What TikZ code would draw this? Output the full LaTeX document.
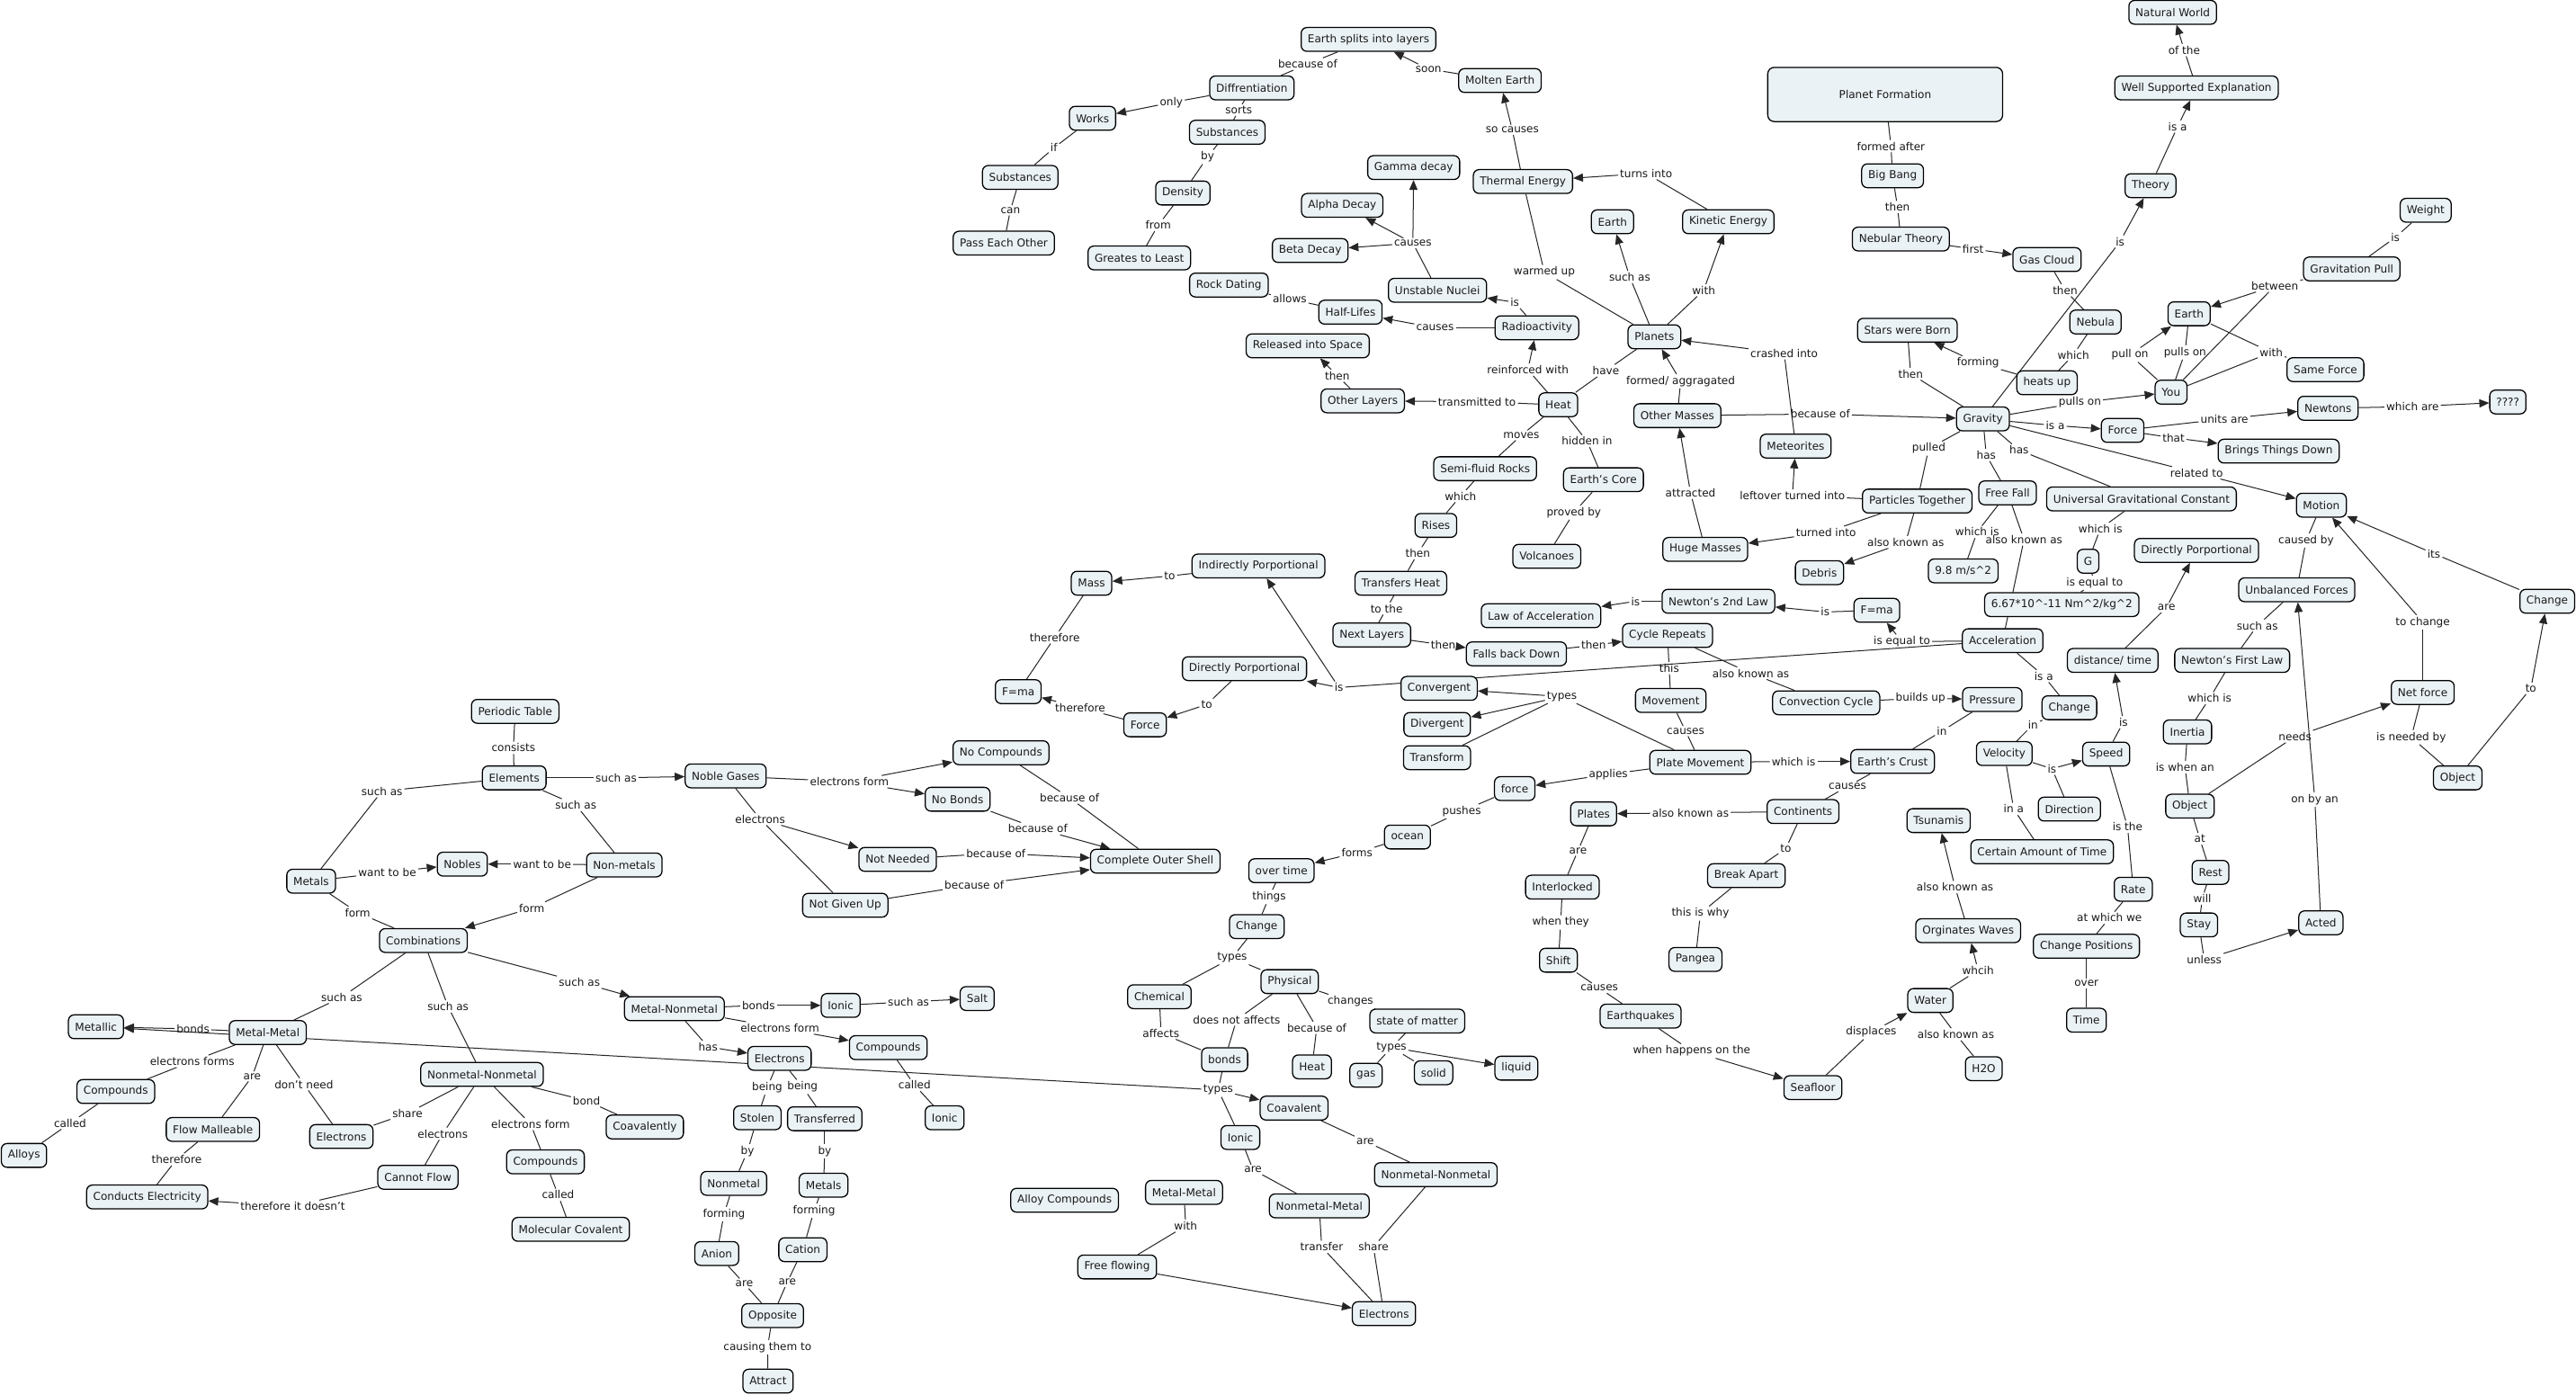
\documentclass[tikz,border=0pt]{standalone}
\usepackage{fontspec}
\setmainfont{DejaVu Sans}
\usetikzlibrary{arrows.meta}
\pgfdeclarelayer{back}
\pgfdeclarelayer{bg}
\pgfsetlayers{back,bg,main}
\definecolor{cfill}{RGB}{235,242,245}
\newcommand\CMfont{\fontsize{6.6pt}{7.6pt}\selectfont}
\tikzset{
 cpt/.style={draw=black, line width=0.7pt, fill=cfill, rounded corners=3.5pt, inner xsep=4pt, inner ysep=2pt, minimum height=14.5pt, font=\CMfont, text=black!90},
 lbl/.style={inner sep=1pt, font=\CMfont, text=black!90},
 ln/.style={line width=0.55pt, draw=black!85},
 arr/.style={ln, -{Triangle[length=6pt,width=5pt]}},
}
\begin{document}
\begin{tikzpicture}[x=1pt,y=-1pt]
\begin{pgfonlayer}{back}
\fill[white] (0,0) rectangle (1568,849);
\end{pgfonlayer}
\useasboundingbox (0,0) rectangle (1568,849);
% ---------- concepts: geology / planets
\node[cpt] (esl) at (833,24) {Earth splits into layers};
\node[cpt] (molten) at (913,49) {Molten Earth};
\node[cpt] (diff) at (762,53.5) {Diffrentiation};
\node[cpt] (works) at (665,72) {Works};
\node[cpt] (subs2) at (747,80.5) {Substances};
\node[cpt] (subs1) at (621,108) {Substances};
\node[cpt] (pass) at (611,148) {Pass Each Other};
\node[cpt] (density) at (720,117.5) {Density};
\node[cpt] (greates) at (693.5,157) {Greates to Least};
\node[cpt] (rock) at (748,173.5) {Rock Dating};
\node[cpt] (gamma) at (860.5,102) {Gamma decay};
\node[cpt] (thermal) at (927,110.5) {Thermal Energy};
\node[cpt] (alpha) at (817,125) {Alpha Decay};
\node[cpt] (earthA) at (981.5,135) {Earth};
\node[cpt] (kinetic) at (1052,135) {Kinetic Energy};
\node[cpt] (beta) at (797.5,152.5) {Beta Decay};
\node[cpt] (unstable) at (875,176.7) {Unstable Nuclei};
\node[cpt] (half) at (822,190) {Half-Lifes};
\node[cpt] (radio) at (935.5,199.5) {Radioactivity};
\node[cpt] (planets) at (1007,205) {Planets};
\node[cpt] (released) at (796,210.5) {Released into Space};
\node[cpt] (otherlayers) at (829.5,244) {Other Layers};
\node[cpt] (heat) at (948.5,246.4) {Heat};
\node[cpt] (othermasses) at (1021,253) {Other Masses};
\node[cpt] (meteorites) at (1093,271.5) {Meteorites};
\node[cpt] (semi) at (904,285.3) {Semi-fluid Rocks};
\node[cpt] (core) at (976,292) {Earth's Core};
\node[cpt] (rises) at (874,319.8) {Rises};
\node[cpt] (huge) at (1038,334.4) {Huge Masses};
\node[cpt] (volcanoes) at (941.5,338.6) {Volcanoes};
\node[cpt] (debris) at (1107.5,348.6) {Debris};
\node[cpt] (transfers) at (852.7,355) {Transfers Heat};
\node[cpt] (n2l) at (1046,366) {Newton's 2nd Law};
\node[cpt] (fmaR) at (1142.4,371.5) {F=ma};
\node[cpt] (lawacc) at (938,374.8) {Law of Acceleration};
\node[cpt] (nextlayers) at (835,386.5) {Next Layers};
\node[cpt] (cycle) at (1015,386.8) {Cycle Repeats};
\node[cpt] (falls) at (923,398) {Falls back Down};
\node[cpt] (convergent) at (876,419) {Convergent};
\node[cpt] (movement) at (1017,426.4) {Movement};
\node[cpt] (convection) at (1111.6,427.8) {Convection Cycle};
\node[cpt] (divergent) at (874.8,441) {Divergent};
\node[cpt] (transform) at (874.7,461.2) {Transform};
\node[cpt] (plate) at (1035,464) {Plate Movement};
\node[cpt] (crust) at (1152,463.5) {Earth's Crust};
\node[cpt] (force) at (922,480) {force};
\node[cpt] (plates) at (970,495.4) {Plates};
\node[cpt] (continents) at (1097.5,494) {Continents};
\node[cpt] (ocean) at (856.7,509.5) {ocean};
\node[cpt] (overtime) at (780,530) {over time};
\node[cpt] (breakapart) at (1063,533) {Break Apart};
\node[cpt] (interlocked) at (951,540) {Interlocked};
\node[cpt] (shift) at (948.6,584.5) {Shift};
\node[cpt] (pangea) at (1032,584) {Pangea};
\node[cpt] (earthquakes) at (998.6,618.5) {Earthquakes};
\node[cpt] (seafloor) at (1103.5,662) {Seafloor};
% ---------- concepts: right side
\node[cpt] (natural) at (1322.5,7.5) {Natural World};
\node[cpt] (wse) at (1337,53.5) {Well Supported Explanation};
\node[cpt, minimum width=143pt, minimum height=33pt, rounded corners=4pt] (planetform) at (1147.5,57.5) {Planet Formation};
\node[cpt] (bigbang) at (1152,107) {Big Bang};
\node[cpt] (theory) at (1309,113) {Theory};
\node[cpt] (weight) at (1476.5,128) {Weight};
\node[cpt] (nebular) at (1157,145.5) {Nebular Theory};
\node[cpt] (gascloud) at (1246,158) {Gas Cloud};
\node[cpt] (gravpull) at (1431.5,163.7) {Gravitation Pull};
\node[cpt] (earthB) at (1332.5,191) {Earth};
\node[cpt] (nebula) at (1275.5,196) {Nebula};
\node[cpt] (stars) at (1161,201) {Stars were Born};
\node[cpt] (sameforce) at (1415.5,225) {Same Force};
\node[cpt] (heatsup) at (1246,233) {heats up};
\node[cpt] (you) at (1321.5,238.7) {You};
\node[cpt] (qqqq) at (1526.5,244.7) {????};
\node[cpt] (newtons) at (1417,248.5) {Newtons};
\node[cpt] (gravity) at (1207,255) {Gravity};
\node[cpt] (forceR) at (1292,262) {Force};
\node[cpt] (brings) at (1387,274.6) {Brings Things Down};
\node[cpt] (freefall) at (1222,300) {Free Fall};
\node[cpt] (ugc) at (1303.5,303.7) {Universal Gravitational Constant};
\node[cpt] (particles) at (1167,305) {Particles Together};
\node[cpt] (motion) at (1413,307.5) {Motion};
\node[cpt] (dpR) at (1337,335) {Directly Porportional};
\node[cpt] (G) at (1271,341.6) {G};
\node[cpt] (nine8) at (1195,347.5) {9.8 m/s\textasciicircum 2};
\node[cpt] (unbalanced) at (1398,359) {Unbalanced Forces};
\node[cpt] (changeR) at (1550.5,366) {Change};
\node[cpt] (sixsix) at (1255,368) {6.67*10\textasciicircum -11 Nm\textasciicircum 2/kg\textasciicircum 2};
\node[cpt] (acceleration) at (1219,390) {Acceleration};
\node[cpt] (disttime) at (1286,402) {distance/ time};
\node[cpt] (nfl) at (1358.7,402) {Newton's First Law};
\node[cpt] (netforce) at (1474.7,421.5) {Net force};
\node[cpt] (pressure) at (1212.7,425.8) {Pressure};
\node[cpt] (changeM) at (1259.6,430.8) {Change};
\node[cpt] (inertia) at (1331.5,445.5) {Inertia};
\node[cpt] (velocity) at (1220,458.7) {Velocity};
\node[cpt] (speed) at (1282,459) {Speed};
\node[cpt] (objectR) at (1496,473.5) {Object};
\node[cpt] (objectM) at (1333,490.7) {Object};
\node[cpt] (direction) at (1259.6,492.5) {Direction};
\node[cpt] (tsunamis) at (1180,499.5) {Tsunamis};
\node[cpt] (certain) at (1243,518.5) {Certain Amount of Time};
\node[cpt] (rest) at (1345.5,531) {Rest};
\node[cpt] (rate) at (1298.5,541.3) {Rate};
\node[cpt] (acted) at (1412.7,561.7) {Acted};
\node[cpt] (stay) at (1338.5,563) {Stay};
\node[cpt] (orginates) at (1198,566.5) {Orginates Waves};
\node[cpt] (changepos) at (1270,576) {Change Positions};
\node[cpt] (water) at (1175,609) {Water};
\node[cpt] (time) at (1270,621) {Time};
\node[cpt] (h2o) at (1207.5,650.5) {H2O};
% ---------- concepts: middle
\node[cpt] (indirect) at (766,344.5) {Indirectly Porportional};
\node[cpt] (mass) at (664.4,355) {Mass};
\node[cpt] (dpL) at (757.5,407) {Directly Porportional};
\node[cpt] (fmaL) at (619.8,421) {F=ma};
\node[cpt] (forceL) at (697,441.2) {Force};
\node[cpt] (nocomp) at (609.3,458.2) {No Compounds};
\node[cpt] (noble) at (441.7,472.3) {Noble Gases};
\node[cpt] (nobonds) at (582.9,486.5) {No Bonds};
\node[cpt] (notneeded) at (546.4,523.1) {Not Needed};
\node[cpt] (cos) at (703.2,524.2) {Complete Outer Shell};
\node[cpt] (notgiven) at (514.5,551) {Not Given Up};
\node[cpt] (changeB) at (765,564) {Change};
\node[cpt] (physical) at (785,597.5) {Physical};
\node[cpt] (chemical) at (705.7,606.7) {Chemical};
\node[cpt] (statem) at (862.7,621.5) {state of matter};
\node[cpt] (bondsN) at (745.4,645) {bonds};
\node[cpt] (heatL) at (798.6,649.4) {Heat};
\node[cpt] (gas) at (831.5,654.5) {gas};
\node[cpt] (solid) at (872.6,653) {solid};
\node[cpt] (liquid) at (923,650.2) {liquid};
\node[cpt] (coavalent) at (787.7,674.5) {Coavalent};
\node[cpt] (ionicB) at (755,692.4) {Ionic};
\node[cpt] (nnR) at (874,715) {Nonmetal-Nonmetal};
\node[cpt] (nmR) at (803,734) {Nonmetal-Metal};
\node[cpt] (mmB) at (720.7,725.8) {Metal-Metal};
\node[cpt] (alloyc) at (648,730.6) {Alloy Compounds};
\node[cpt] (freeflow) at (680,771.2) {Free flowing};
\node[cpt] (electronsB) at (842.4,799.6) {Electrons};
% ---------- concepts: chemistry left
\node[cpt] (periodic) at (313.6,433) {Periodic Table};
\node[cpt] (elements) at (313,473.5) {Elements};
\node[cpt] (nobles) at (281.4,526) {Nobles};
\node[cpt] (nonmetals) at (380,526.5) {Non-metals};
\node[cpt] (metals) at (189.4,536.4) {Metals};
\node[cpt] (combos) at (257.7,572.5) {Combinations};
\node[cpt] (mn) at (410.5,614) {Metal-Nonmetal};
\node[cpt] (ionicT) at (511.7,612) {Ionic};
\node[cpt] (salt) at (594.8,607.8) {Salt};
\node[cpt] (metallic) at (58.4,625) {Metallic};
\node[cpt] (mm) at (163,628.5) {Metal-Metal};
\node[cpt] (compMN) at (540.7,637.7) {Compounds};
\node[cpt] (electronsMN) at (474.5,644.2) {Electrons};
\node[cpt] (nnL) at (293.4,654) {Nonmetal-Nonmetal};
\node[cpt] (compL) at (70.5,664.4) {Compounds};
\node[cpt] (ionicC) at (575,680.4) {Ionic};
\node[cpt] (stolen) at (461,680.4) {Stolen};
\node[cpt] (transferred) at (502,681) {Transferred};
\node[cpt] (coavalently) at (392.5,686) {Coavalently};
\node[cpt] (flow) at (129.6,687.5) {Flow Malleable};
\node[cpt] (electronsL) at (207.8,691.8) {Electrons};
\node[cpt] (alloys) at (14.6,703.3) {Alloys};
\node[cpt] (compNN) at (332,707.2) {Compounds};
\node[cpt] (cannot) at (254.4,716.6) {Cannot Flow};
\node[cpt] (conducts) at (89.6,728.6) {Conducts Electricity};
\node[cpt] (molecular) at (347.4,748.3) {Molecular Covalent};
\node[cpt] (nonmetal) at (446.6,720.3) {Nonmetal};
\node[cpt] (metalsB) at (501.3,721.4) {Metals};
\node[cpt] (anion) at (436.3,763) {Anion};
\node[cpt] (cation) at (488.7,760.7) {Cation};
\node[cpt] (opposite) at (470.3,800.8) {Opposite};
\node[cpt] (attract) at (467.5,840.7) {Attract};
% ---------- linking phrases
\node[lbl] (q1) at (869.5,42) {soon};
\node[lbl] (q2) at (796,39) {because of};
\node[lbl] (q3) at (713,62.4) {only};
\node[lbl] (q4) at (754,67) {sorts};
\node[lbl] (q5) at (641.5,90) {if};
\node[lbl] (q6) at (735,95.6) {by};
\node[lbl] (q7) at (615,128) {can};
\node[lbl] (q8) at (705,137) {from};
\node[lbl] (q9) at (920.5,79) {so causes};
\node[lbl] (q10) at (1002,105.5) {turns into};
\node[lbl] (q11) at (860,148) {causes};
\node[lbl] (q12) at (940,165.7) {warmed up};
\node[lbl] (q13) at (992,168.6) {such as};
\node[lbl] (q14) at (1037,176.7) {with};
\node[lbl] (q15) at (785,182) {allows};
\node[lbl] (q16) at (922,184) {is};
\node[lbl] (q17) at (873.5,199.5) {causes};
\node[lbl] (q18) at (1086,215) {crashed into};
\node[lbl] (q19) at (814,228.7) {then};
\node[lbl] (q20) at (930,225) {reinforced with};
\node[lbl] (q21) at (977.5,225.6) {have};
\node[lbl] (q22) at (1023,232) {formed/ aggragated};
\node[lbl] (q23) at (899,244.5) {transmitted to};
\node[lbl] (q24) at (1108,252) {because of};
\node[lbl] (q25) at (926,265) {moves};
\node[lbl] (q26) at (966,268.5) {hidden in};
\node[lbl] (q27) at (1029,300) {attracted};
\node[lbl] (q28) at (1091,301.6) {leftover turned into};
\node[lbl] (q29) at (889,302) {which};
\node[lbl] (q30) at (958,312) {proved by};
\node[lbl] (q31) at (1111.5,324) {turned into};
\node[lbl] (q32) at (1160,330) {also known as};
\node[lbl] (q33) at (863,336.8) {then};
\node[lbl] (q34) at (844,370.4) {to the};
\node[lbl] (q35) at (995.5,366) {is};
\node[lbl] (q36) at (1111,372.5) {is};
\node[lbl] (q37) at (878.5,392.5) {then};
\node[lbl] (q38) at (970,392.8) {then};
\node[lbl] (q39) at (1157.7,390.6) {is equal to};
\node[lbl] (q40) at (1016,406.6) {this};
\node[lbl] (q41) at (1065.7,409.8) {also known as};
\node[lbl] (q42) at (815,418.5) {is};
\node[lbl] (q43) at (950.7,424) {types};
\node[lbl] (q44) at (1026,445) {causes};
\node[lbl] (q45) at (1169,425) {builds up};
\node[lbl] (q46) at (1182,445) {in};
\node[lbl] (q47) at (1091.7,463.5) {which is};
\node[lbl] (q48) at (979,471.3) {applies};
\node[lbl] (q49) at (1124.5,478.8) {causes};
\node[lbl] (q50) at (1029,494.8) {also known as};
\node[lbl] (q51) at (889.7,493.9) {pushes};
\node[lbl] (q52) at (826,519) {forms};
\node[lbl] (q53) at (960.5,517.8) {are};
\node[lbl] (q54) at (1087,516.5) {to};
\node[lbl] (q55) at (1035,556) {this is why};
\node[lbl] (q56) at (950,561.5) {when they};
\node[lbl] (q57) at (973.5,601.5) {causes};
\node[lbl] (q58) at (1029.7,639.8) {when happens on the};
\node[lbl] (q59) at (1139,628.3) {displaces};
\node[lbl] (q60) at (1204,590.6) {whcih};
\node[lbl] (q61) at (1190,540) {also known as};
\node[lbl] (q62) at (1190.5,629.6) {also known as};
\node[lbl] (q63) at (1151,89) {formed after};
\node[lbl] (q64) at (1155,126) {then};
\node[lbl] (q65) at (1201,151.5) {first};
\node[lbl] (q66) at (1257,176.7) {then};
\node[lbl] (q67) at (1262,216) {which};
\node[lbl] (q68) at (1204,221) {forming};
\node[lbl] (q69) at (1163,227.6) {then};
\node[lbl] (q70) at (1290.5,147) {is};
\node[lbl] (q71) at (1325.5,77) {is a};
\node[lbl] (q72) at (1329.5,30.5) {of the};
\node[lbl] (q73) at (1458,144.5) {is};
\node[lbl] (q74) at (1384.7,174) {between};
\node[lbl] (q75) at (1296.5,216) {pull on};
\node[lbl] (q76) at (1330,214.5) {pulls on};
\node[lbl] (q77) at (1382.5,214.5) {with};
\node[lbl] (q78) at (1266,245) {pulls on};
\node[lbl] (q79) at (1251,259) {is a};
\node[lbl] (q80) at (1354,255) {units are};
\node[lbl] (q81) at (1468.5,247.5) {which are};
\node[lbl] (q82) at (1323,266.5) {that};
\node[lbl] (q83) at (1209,277) {has};
\node[lbl] (q84) at (1229,274) {has};
\node[lbl] (q85) at (1174,273) {pulled};
\node[lbl] (q86) at (1337,287.8) {related to};
\node[lbl] (q87) at (1203.5,323.8) {which is};
\node[lbl] (q88) at (1232,328.4) {also known as};
\node[lbl] (q89) at (1278.5,321.8) {which is};
\node[lbl] (q90) at (1275,354.8) {is equal to};
\node[lbl] (q91) at (1403.7,329) {caused by};
\node[lbl] (q92) at (1481.5,337) {its};
\node[lbl] (q93) at (1318.7,369.8) {are};
\node[lbl] (q94) at (1374,380.8) {such as};
\node[lbl] (q95) at (1474.7,378.7) {to change};
\node[lbl] (q96) at (1244,411.5) {is a};
\node[lbl] (q97) at (1540.5,419) {to};
\node[lbl] (q98) at (1345,425) {which is};
\node[lbl] (q99) at (1292.5,439.6) {is};
\node[lbl] (q100) at (1237.5,441) {in};
\node[lbl] (q101) at (1397,448.3) {needs};
\node[lbl] (q102) at (1467.7,448.8) {is needed by};
\node[lbl] (q103) at (1330,467) {is when an};
\node[lbl] (q104) at (1249,467.9) {is};
\node[lbl] (q105) at (1409,486.7) {on by an};
\node[lbl] (q106) at (1225.7,492.4) {in a};
\node[lbl] (q107) at (1295,503.3) {is the};
\node[lbl] (q108) at (1339,510.6) {at};
\node[lbl] (q109) at (1340.5,547) {will};
\node[lbl] (q110) at (1284,558.7) {at which we};
\node[lbl] (q111) at (1341.7,584.1) {unless};
\node[lbl] (q112) at (1270,598.7) {over};
\node[lbl] (q113) at (712,350.6) {to};
\node[lbl] (q114) at (642,388) {therefore};
\node[lbl] (q115) at (734.5,428.8) {to};
\node[lbl] (q116) at (657.5,430.7) {therefore};
\node[lbl] (q117) at (375,473.5) {such as};
\node[lbl] (q118) at (517,475.8) {electrons form};
\node[lbl] (q119) at (651,485.6) {because of};
\node[lbl] (q120) at (462.7,498.6) {electrons};
\node[lbl] (q121) at (631.7,504.4) {because of};
\node[lbl] (q122) at (606.2,519.3) {because of};
\node[lbl] (q123) at (593,538.5) {because of};
\node[lbl] (q124) at (772.5,546) {things};
\node[lbl] (q125) at (750,583) {types};
\node[lbl] (q126) at (752.7,620.7) {does not affects};
\node[lbl] (q127) at (706.7,628.9) {affects};
\node[lbl] (q128) at (822,609.6) {changes};
\node[lbl] (q129) at (801.5,625.6) {because of};
\node[lbl] (q130) at (847,637.6) {types};
\node[lbl] (q131) at (741.5,663.5) {types};
\node[lbl] (q132) at (831,694.6) {are};
\node[lbl] (q133) at (762.7,712) {are};
\node[lbl] (q134) at (721.7,746.2) {with};
\node[lbl] (q135) at (804.5,759) {transfer};
\node[lbl] (q136) at (836,759) {share};
\node[lbl] (q138) at (312.5,455.2) {consists};
\node[lbl] (q139) at (232.5,481.6) {such as};
\node[lbl] (q140) at (350.5,490) {such as};
\node[lbl] (q141) at (330,526) {want to be};
\node[lbl] (q142) at (235.7,531) {want to be};
\node[lbl] (q143) at (217.7,555.5) {form};
\node[lbl] (q144) at (323.7,552.7) {form};
\node[lbl] (q145) at (352.7,597.8) {such as};
\node[lbl] (q146) at (208,607) {such as};
\node[lbl] (q147) at (272.7,612.6) {such as};
\node[lbl] (q148) at (461.7,612) {bonds};
\node[lbl] (q149) at (553,609.8) {such as};
\node[lbl] (q150) at (474.7,625.7) {electrons form};
\node[lbl] (q151) at (431,637.2) {has};
\node[lbl] (q152) at (117.5,626.3) {bonds};
\node[lbl] (q153) at (117,646) {electrons forms};
\node[lbl] (q154) at (153.5,655.2) {are};
\node[lbl] (q155) at (185,660) {don't need};
\node[lbl] (q156) at (556.7,660.5) {called};
\node[lbl] (q157) at (467,662) {being};
\node[lbl] (q158) at (488.5,661.6) {being};
\node[lbl] (q159) at (357,670) {bond};
\node[lbl] (q160) at (248,677.7) {share};
\node[lbl] (q161) at (42.7,683.6) {called};
\node[lbl] (q162) at (323,684.2) {electrons form};
\node[lbl] (q163) at (269.5,690.1) {electrons};
\node[lbl] (q164) at (107.5,705.7) {therefore};
\node[lbl] (q165) at (455,700.7) {by};
\node[lbl] (q166) at (502,700.7) {by};
\node[lbl] (q167) at (339.7,727.3) {called};
\node[lbl] (q168) at (178.2,734.3) {therefore it doesn't};
\node[lbl] (q169) at (440.7,739) {forming};
\node[lbl] (q170) at (495.5,737) {forming};
\node[lbl] (q171) at (453,781.3) {are};
\node[lbl] (q172) at (479.2,780.4) {are};
\node[lbl] (q173) at (467.2,820) {causing them to};
% ---------- connectors (behind the boxes)
\begin{pgfonlayer}{bg}
\path (q1) edge[ln] (molten) edge[arr] (esl);
\path (q2) edge[ln] (esl) edge[ln] (diff);
\path (q3) edge[ln] (diff) edge[arr] (works);
\path (q4) edge[ln] (diff) edge[ln] (subs2);
\path (q5) edge[ln] (works) edge[ln] (subs1);
\path (q6) edge[ln] (subs2) edge[ln] (density);
\path (q7) edge[ln] (subs1) edge[ln] (pass);
\path (q8) edge[ln] (density) edge[ln] (greates);
\path (q9) edge[ln] (thermal) edge[arr] (molten);
\path (q10) edge[ln] (kinetic) edge[arr] (thermal);
\path (q11) edge[ln] (unstable) edge[arr] (gamma) edge[arr] (alpha) edge[arr] (beta);
\path (q12) edge[ln] (planets) edge[ln] (thermal);
\path (q13) edge[ln] (planets) edge[arr] (earthA);
\path (q14) edge[ln] (planets) edge[arr] (kinetic);
\path (q15) edge[ln] (rock) edge[ln] (half);
\path (q16) edge[ln] (radio) edge[arr] (unstable);
\path (q17) edge[ln] (radio) edge[arr] (half);
\path (q18) edge[ln] (meteorites) edge[arr] (planets);
\path (q19) edge[ln] (otherlayers) edge[arr] (released);
\path (q20) edge[ln] (heat) edge[arr] (radio);
\path (q21) edge[ln] (heat) edge[ln] (planets);
\path (q22) edge[ln] (othermasses) edge[arr] (planets);
\path (q23) edge[ln] (heat) edge[arr] (otherlayers);
\path (q24) edge[ln] (othermasses) edge[arr] (gravity);
\path (q25) edge[ln] (heat) edge[ln] (semi);
\path (q26) edge[ln] (heat) edge[ln] (core);
\path (q27) edge[ln] (huge) edge[arr] (othermasses);
\path (q28) edge[ln] (particles) edge[arr] (meteorites);
\path (q29) edge[ln] (semi) edge[ln] (rises);
\path (q30) edge[ln] (core) edge[ln] (volcanoes);
\path (q31) edge[ln] (particles) edge[arr] (huge);
\path (q32) edge[ln] (particles) edge[arr] (debris);
\path (q33) edge[ln] (rises) edge[ln] (transfers);
\path (q34) edge[ln] (transfers) edge[ln] (nextlayers);
\path (q35) edge[ln] (n2l) edge[arr] (lawacc);
\path (q36) edge[ln] (fmaR) edge[arr] (n2l);
\path (q37) edge[ln] (nextlayers) edge[arr] (falls);
\path (q38) edge[ln] (falls) edge[arr] (cycle);
\path (q39) edge[ln] (acceleration) edge[arr] (fmaR);
\path (q40) edge[ln] (cycle) edge[ln] (movement);
\path (q41) edge[ln] (cycle) edge[ln] (convection);
\path (q42) edge[ln] (acceleration) edge[arr] (indirect) edge[arr] (dpL);
\path (q43) edge[ln] (plate) edge[arr] (convergent) edge[arr] (divergent) edge[ln] (transform);
\path (q44) edge[ln] (movement) edge[ln] (plate);
\path (q45) edge[ln] (convection) edge[arr] (pressure);
\path (q46) edge[ln] (pressure) edge[ln] (crust);
\path (q47) edge[ln] (plate) edge[arr] (crust);
\path (q48) edge[ln] (plate) edge[arr] (force);
\path (q49) edge[ln] (crust) edge[ln] (continents);
\path (q50) edge[ln] (continents) edge[arr] (plates);
\path (q51) edge[ln] (force) edge[ln] (ocean);
\path (q52) edge[ln] (ocean) edge[arr] (overtime);
\path (q53) edge[ln] (plates) edge[ln] (interlocked);
\path (q54) edge[ln] (continents) edge[ln] (breakapart);
\path (q55) edge[ln] (breakapart) edge[ln] (pangea);
\path (q56) edge[ln] (interlocked) edge[ln] (shift);
\path (q57) edge[ln] (shift) edge[ln] (earthquakes);
\path (q58) edge[ln] (earthquakes) edge[arr] (seafloor);
\path (q59) edge[ln] (seafloor) edge[arr] (water);
\path (q60) edge[ln] (water) edge[arr] (orginates);
\path (q61) edge[ln] (orginates) edge[arr] (tsunamis);
\path (q62) edge[ln] (water) edge[ln] (h2o);
\path (q63) edge[ln] (planetform) edge[ln] (bigbang);
\path (q64) edge[ln] (bigbang) edge[ln] (nebular);
\path (q65) edge[ln] (nebular) edge[arr] (gascloud);
\path (q66) edge[ln] (gascloud) edge[ln] (nebula);
\path (q67) edge[ln] (nebula) edge[ln] (heatsup);
\path (q68) edge[ln] (heatsup) edge[arr] (stars);
\path (q69) edge[ln] (stars) edge[ln] (gravity);
\path (q70) edge[ln] (gravity) edge[arr] (theory);
\path (q71) edge[ln] (theory) edge[arr] (wse);
\path (q72) edge[ln] (wse) edge[arr] (natural);
\path (q73) edge[ln] (gravpull) edge[ln] (weight);
\path (q74) edge[ln] (gravpull) edge[arr] (earthB) edge[ln] (you);
\path (q75) edge[ln] (you) edge[arr] (earthB);
\path (q76) edge[ln] (earthB) edge[ln] (you);
\path (q77) edge[ln] (earthB) edge[ln] (you) edge[ln] (sameforce);
\path (q78) edge[ln] (gravity) edge[arr] (you);
\path (q79) edge[ln] (gravity) edge[arr] (forceR);
\path (q80) edge[ln] (forceR) edge[arr] (newtons);
\path (q81) edge[ln] (newtons) edge[arr] (qqqq);
\path (q82) edge[ln] (forceR) edge[arr] (brings);
\path (q83) edge[ln] (gravity) edge[ln] (freefall);
\path (q84) edge[ln] (gravity) edge[ln] (ugc);
\path (q85) edge[ln] (gravity) edge[ln] (particles);
\path (q86) edge[ln] (gravity) edge[arr] (motion);
\path (q87) edge[ln] (freefall) edge[ln] (nine8);
\path (q88) edge[ln] (freefall) edge[ln] (acceleration);
\path (q89) edge[ln] (ugc) edge[ln] (G);
\path (q90) edge[ln] (G) edge[ln] (sixsix);
\path (q91) edge[ln] (motion) edge[ln] (unbalanced);
\path (q92) edge[ln] (changeR) edge[arr] (motion);
\path (q93) edge[ln] (disttime) edge[arr] (dpR);
\path (q94) edge[ln] (unbalanced) edge[ln] (nfl);
\path (q95) edge[ln] (netforce) edge[arr] (motion);
\path (q96) edge[ln] (acceleration) edge[ln] (changeM);
\path (q97) edge[ln] (objectR) edge[arr] (changeR);
\path (q98) edge[ln] (nfl) edge[ln] (inertia);
\path (q99) edge[ln] (speed) edge[arr] (disttime);
\path (q100) edge[ln] (changeM) edge[ln] (velocity);
\path (q101) edge[ln] (objectM) edge[arr] (netforce);
\path (q102) edge[ln] (netforce) edge[ln] (objectR);
\path (q103) edge[ln] (inertia) edge[ln] (objectM);
\path (q104) edge[ln] (velocity) edge[arr] (speed) edge[ln] (direction);
\path (q105) edge[ln] (acted) edge[arr] (unbalanced);
\path (q106) edge[ln] (velocity) edge[ln] (certain);
\path (q107) edge[ln] (speed) edge[ln] (rate);
\path (q108) edge[ln] (objectM) edge[ln] (rest);
\path (q109) edge[ln] (rest) edge[ln] (stay);
\path (q110) edge[ln] (rate) edge[ln] (changepos);
\path (q111) edge[ln] (stay) edge[arr] (acted);
\path (q112) edge[ln] (changepos) edge[ln] (time);
\path (q113) edge[ln] (indirect) edge[arr] (mass);
\path (q114) edge[ln] (mass) edge[ln] (fmaL);
\path (q115) edge[ln] (dpL) edge[arr] (forceL);
\path (q116) edge[ln] (forceL) edge[arr] (fmaL);
\path (q117) edge[ln] (elements) edge[arr] (noble);
\path (q118) edge[ln] (noble) edge[arr] (nocomp) edge[arr] (nobonds);
\path (q119) edge[ln] (nocomp) edge[ln] (cos);
\path (q120) edge[ln] (noble) edge[arr] (notneeded) edge[ln] (notgiven);
\path (q121) edge[ln] (nobonds) edge[arr] (cos);
\path (q122) edge[ln] (notneeded) edge[arr] (cos);
\path (q123) edge[ln] (notgiven) edge[arr] (cos);
\path (q124) edge[ln] (overtime) edge[ln] (changeB);
\path (q125) edge[ln] (changeB) edge[ln] (chemical) edge[ln] (physical);
\path (q126) edge[ln] (physical) edge[ln] (bondsN);
\path (q127) edge[ln] (chemical) edge[ln] (bondsN);
\path (q128) edge[ln] (physical) edge[ln] (statem);
\path (q129) edge[ln] (physical) edge[ln] (heatL);
\path (q130) edge[ln] (statem) edge[ln] (gas) edge[ln] (solid) edge[arr] (liquid);
\path (q131) edge[ln] (bondsN) edge[arr] (coavalent) edge[ln] (ionicB) edge[arr] (metallic);
\path (q132) edge[ln] (coavalent) edge[ln] (nnR);
\path (q133) edge[ln] (ionicB) edge[ln] (nmR);
\path (q134) edge[ln] (mmB) edge[ln] (freeflow);
\path (q135) edge[ln] (nmR) edge[ln] (electronsB);
\path (q136) edge[ln] (nnR) edge[ln] (electronsB);
\path (freeflow) edge[arr] (electronsB);
\path (q138) edge[ln] (periodic) edge[ln] (elements);
\path (q139) edge[ln] (elements) edge[ln] (metals);
\path (q140) edge[ln] (elements) edge[ln] (nonmetals);
\path (q141) edge[ln] (nonmetals) edge[arr] (nobles);
\path (q142) edge[ln] (metals) edge[arr] (nobles);
\path (q143) edge[ln] (metals) edge[ln] (combos);
\path (q144) edge[ln] (nonmetals) edge[arr] (combos);
\path (q145) edge[ln] (combos) edge[arr] (mn);
\path (q146) edge[ln] (combos) edge[ln] (mm);
\path (q147) edge[ln] (combos) edge[ln] (nnL);
\path (q148) edge[ln] (mn) edge[arr] (ionicT);
\path (q149) edge[ln] (ionicT) edge[arr] (salt);
\path (q150) edge[ln] (mn) edge[arr] (compMN);
\path (q151) edge[ln] (mn) edge[arr] (electronsMN);
\path (q152) edge[ln] (mm) edge[arr] (metallic);
\path (q153) edge[ln] (mm) edge[ln] (compL);
\path (q154) edge[ln] (mm) edge[ln] (flow);
\path (q155) edge[ln] (mm) edge[ln] (electronsL);
\path (q156) edge[ln] (compMN) edge[ln] (ionicC);
\path (q157) edge[ln] (electronsMN) edge[ln] (stolen);
\path (q158) edge[ln] (electronsMN) edge[ln] (transferred);
\path (q159) edge[ln] (nnL) edge[ln] (coavalently);
\path (q160) edge[ln] (nnL) edge[ln] (electronsL);
\path (q161) edge[ln] (compL) edge[ln] (alloys);
\path (q162) edge[ln] (nnL) edge[ln] (compNN);
\path (q163) edge[ln] (nnL) edge[ln] (cannot);
\path (q164) edge[ln] (flow) edge[ln] (conducts);
\path (q165) edge[ln] (stolen) edge[ln] (nonmetal);
\path (q166) edge[ln] (transferred) edge[ln] (metalsB);
\path (q167) edge[ln] (compNN) edge[ln] (molecular);
\path (q168) edge[ln] (cannot) edge[arr] (conducts);
\path (q169) edge[ln] (nonmetal) edge[ln] (anion);
\path (q170) edge[ln] (metalsB) edge[ln] (cation);
\path (q171) edge[ln] (anion) edge[ln] (opposite);
\path (q172) edge[ln] (cation) edge[ln] (opposite);
\path (q173) edge[ln] (opposite) edge[ln] (attract);
\end{pgfonlayer}
\end{tikzpicture}
\end{document}
